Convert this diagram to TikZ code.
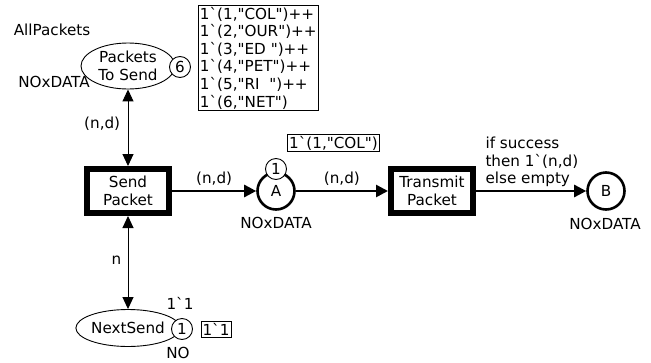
\documentclass[tikz,border=0pt]{standalone}
\usepackage{fontspec}
\newfontfamily\cpnfont{DejaVu Sans}
\usetikzlibrary{shapes.geometric,arrows.meta}
\tikzset{
  place/.style={ellipse, draw, line width=0.9pt, minimum width=94pt, minimum height=46pt, inner sep=0pt, align=center},
  cplace/.style={circle, draw, line width=2.6pt, minimum size=37pt, inner sep=0pt},
  trans/.style={rectangle, draw, line width=6pt, minimum width=82pt, minimum height=44pt, align=center, inner sep=0pt},
  token/.style={circle, draw, fill=white, line width=0.9pt, minimum size=21pt, inner sep=0pt},
  marking/.style={rectangle, draw, line width=0.9pt, align=left, inner xsep=1.5pt, inner ysep=1.5pt},
  arc/.style={line width=1pt, arrows={Triangle[length=12pt,width=11pt]-Triangle[length=12pt,width=11pt]}},
  bigarc/.style={line width=2.6pt, -{Triangle[length=12pt,width=12pt]}}
}

\begin{document}
\begin{tikzpicture}[x=1pt, y=-1pt, font=\cpnfont\fontsize{15.2}{17.6}\selectfont]
    \useasboundingbox (0,0) rectangle (651,362);

    \node[place] (packets) at (128,66) {Packets\\To Send};
    \node[token] (tok6) at (180,67) {6};
    \node (allpackets) at (52,30) {AllPackets};
    \node (typepackets) at (54,82) {NOxDATA};
    \node[marking, anchor=north west] (initpackets) at (198,5) {1`(1,"COL")++\\1`(2,"OUR")++\\1`(3,"ED ")++\\1`(4,"PET")++\\1`(5,"RI~ ")++\\1`(6,"NET")};

    \node[trans] (send) at (128,191) {Send\\Packet};
    \node[cplace] (A) at (276,191) {A};
    \node[token] (tokA) at (276,169) {1};
    \node (typeA) at (276,223) {NOxDATA};
    \node[marking] (markA) at (333.5,143) {1`(1,"COL")};
    \node[trans] (transmit) at (432,191) {Transmit\\Packet};
    \node[cplace] (B) at (606,191) {B};
    \node (typeB) at (605,224) {NOxDATA};

    \node[place, minimum width=96pt, minimum height=37pt] (next) at (128,328) {NextSend};
    \node[token] (tokN) at (182,329) {1};
    \node (initN) at (180,303) {1`1};
    \node (typeN) at (178,353) {NO};
    \node[marking] (markN) at (216,329.5) {1`1};

    \draw[arc] (packets) -- node[left=4pt, pos=0.45] {(n,d)} (send);
    \draw[arc] (send) -- node[left=3pt, pos=0.48] {n} (next);
    \draw[bigarc] (send) -- node[above=1pt] {(n,d)} (A);
    \draw[bigarc] (A) -- node[above=1pt] {(n,d)} (transmit);
    \draw[bigarc] (transmit) -- (B);
    \node[align=left, anchor=west] (guard) at (482,162) {if success\\then 1`(n,d)\\else empty};
\end{tikzpicture}
\end{document}
